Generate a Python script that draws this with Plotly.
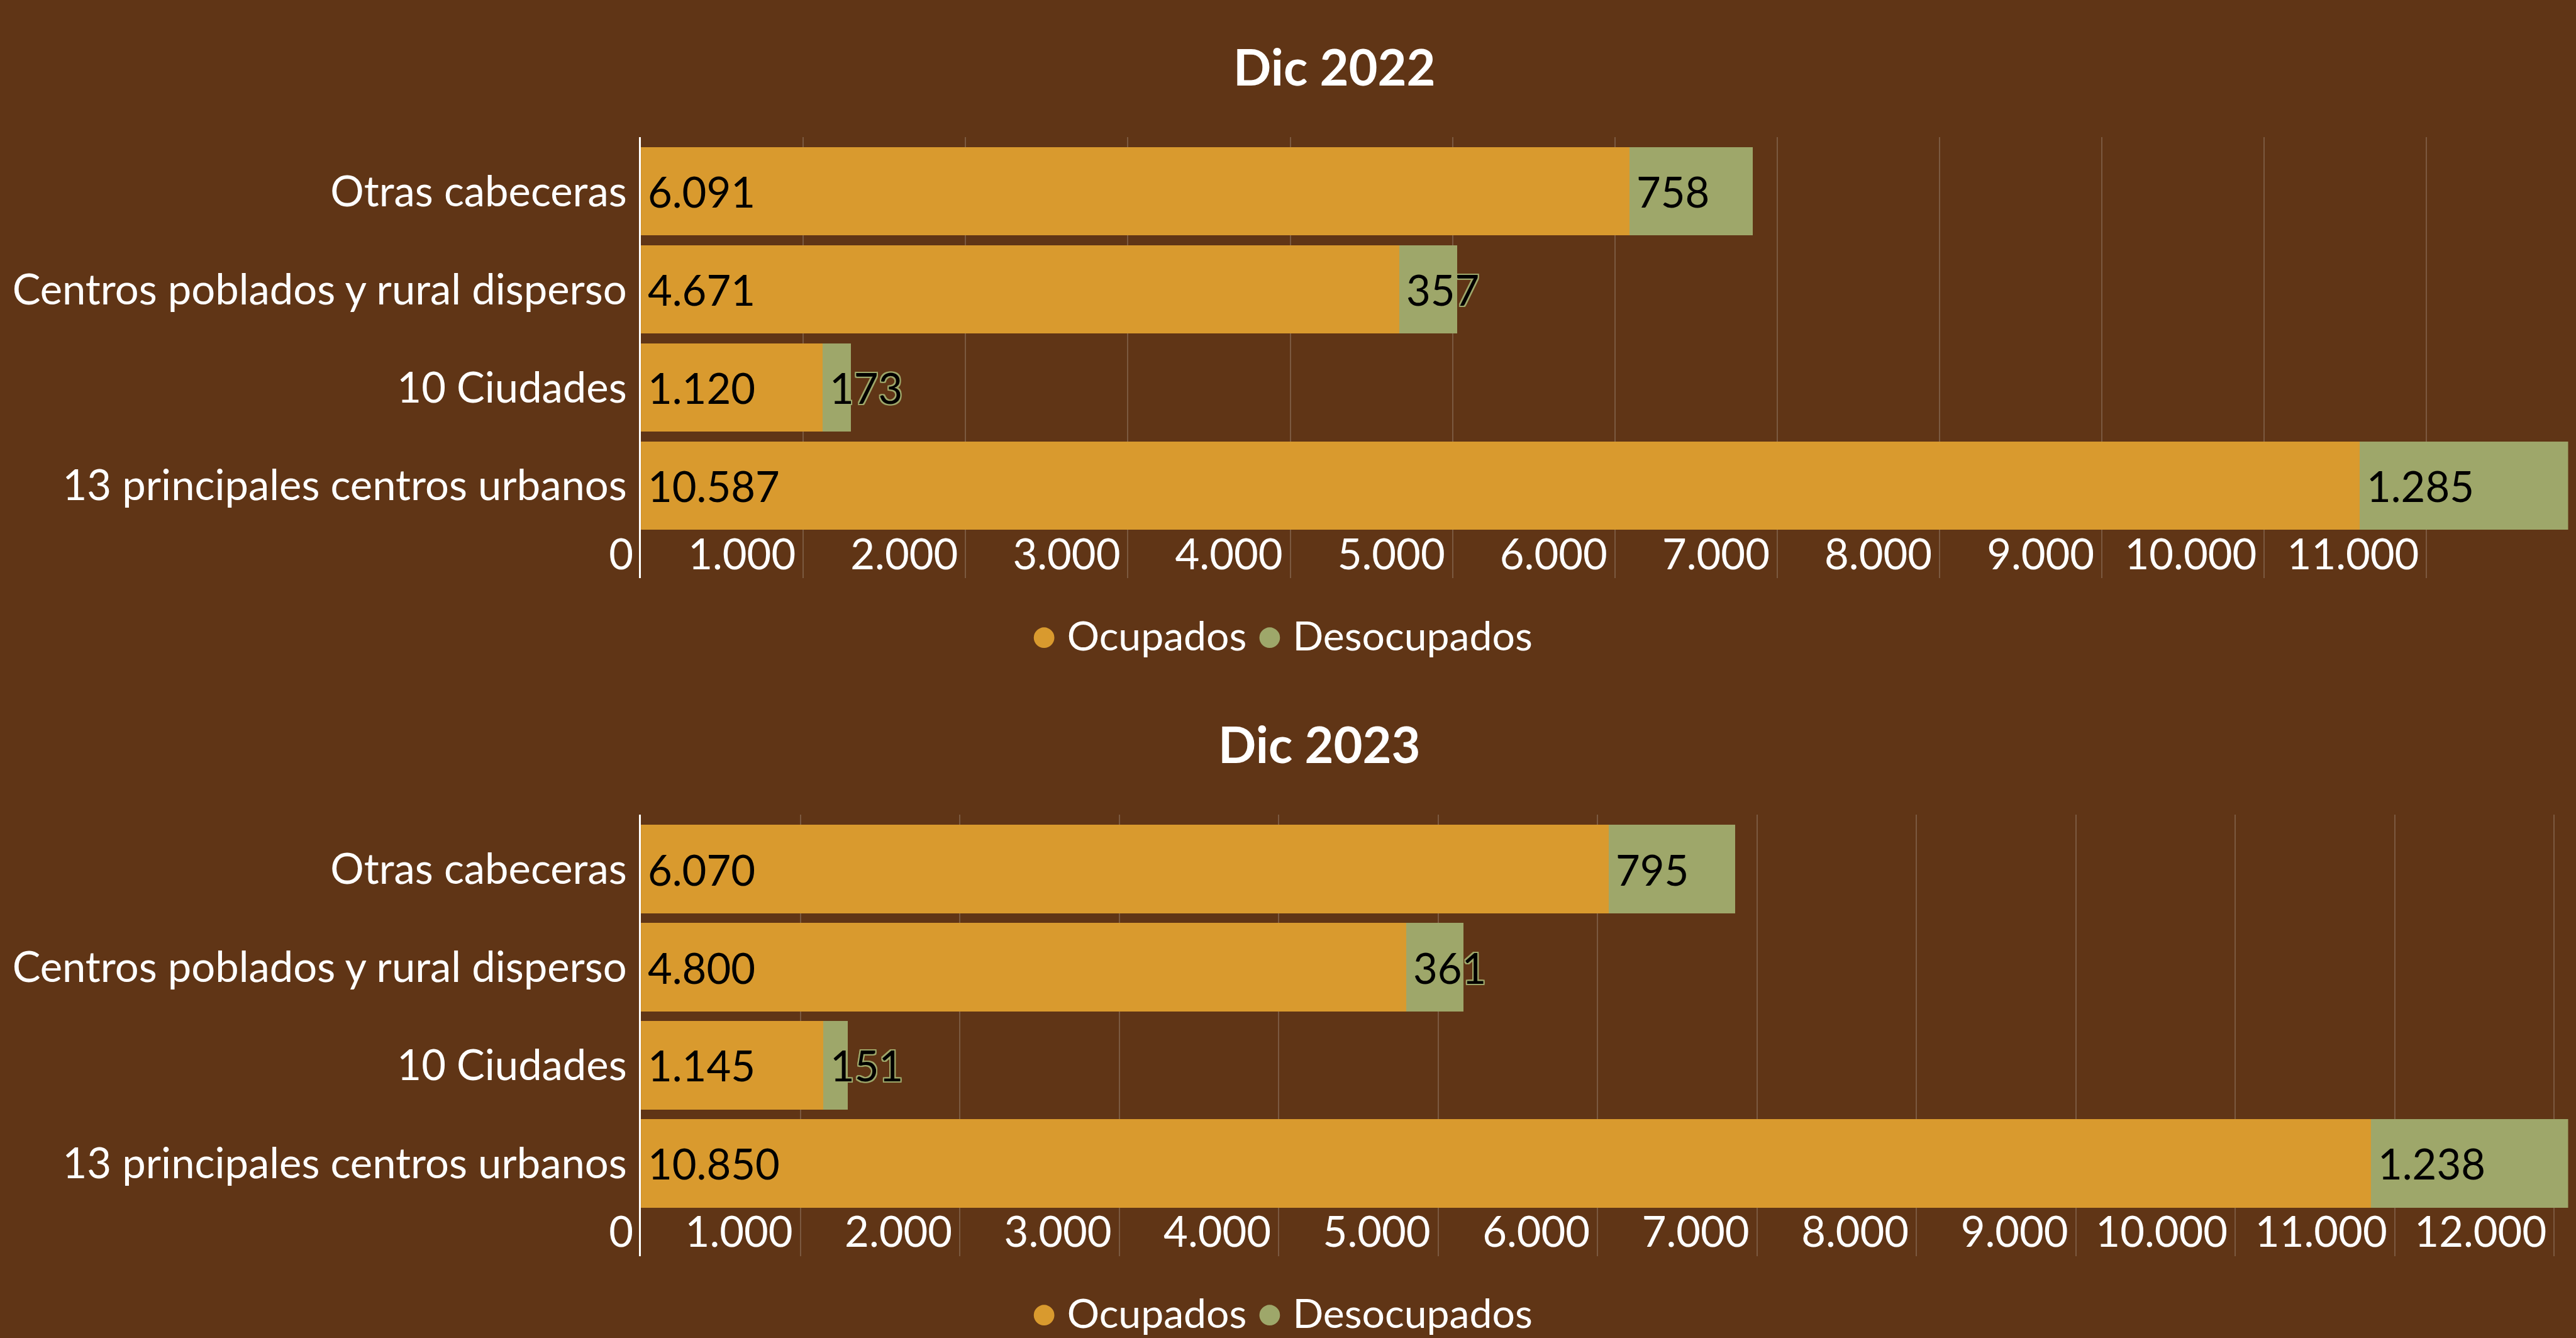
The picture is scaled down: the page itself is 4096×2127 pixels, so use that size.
import plotly.graph_objects as go

# ---------------- data ----------------
categories = ["13 principales centros urbanos", "10 Ciudades",
              "Centros poblados y rural disperso", "Otras cabeceras"]
series_names = ["Ocupados", "Desocupados"]
titles = ["Dic 2022", "Dic 2023"]
ocupados_2022 = [10587, 1120, 4671, 6091]
desocupados_2022 = [1285, 173, 357, 758]
ocupados_2023 = [10850, 1145, 4800, 6070]
desocupados_2023 = [1238, 151, 361, 795]

# ---------------- style ----------------
RW, RH = 4590, 2383
W, H = 4096, 2127
S = W / RW
BG = "#603516"
C_OCC = "#d99a2e"
C_DES = "#9ea76a"
GRID = "#7b5940"
FONT = "Lato"
FS = 75 * S
FS_LEG = 72 * S
FS_TITLE = 89 * S


def fmt(v):
    return f"{v:,}".replace(",", ".")


panels = [
    dict(occ=ocupados_2022, des=desocupados_2022, title=titles[0],
         ytop=244, ybot=1030, title_x=2378, title_y=118, leg_y=1129.5),
    dict(occ=ocupados_2023, des=desocupados_2023, title=titles[1],
         ytop=1451, ybot=2237, title_x=2351, title_y=1324.5, leg_y=2335.5),
]

fig = go.Figure()
annotations = []
X0, X1 = 1142, 4576

for i, p in enumerate(panels):
    sfx = "" if i == 0 else str(i + 1)
    xa, ya = "x" + sfx, "y" + sfx
    fig.add_trace(go.Bar(y=categories, x=p["occ"], orientation="h", name=series_names[0],
                         marker=dict(color=C_OCC, line=dict(width=0)),
                         xaxis=xa, yaxis=ya, showlegend=False, hoverinfo="x+y"))
    fig.add_trace(go.Bar(y=categories, x=p["des"], orientation="h", name=series_names[1],
                         marker=dict(color=C_DES, line=dict(width=0)),
                         xaxis=xa, yaxis=ya, showlegend=False, hoverinfo="x+y"))
    total_max = max(o + d for o, d in zip(p["occ"], p["des"]))
    fig.layout["xaxis" + sfx] = dict(
        domain=[X0 / RW, X1 / RW], anchor=ya, range=[0, total_max], automargin=False,
        dtick=1000, tick0=0, tickformat=",d", showgrid=True, gridcolor=GRID,
        gridwidth=2 * S, zeroline=False, showline=False, ticks="",
        ticklabelposition="inside left", ticklabeloverflow="allow",
        ticklabelshift=-12, ticklabelstandoff=-5,
        tickfont=dict(family=FONT, size=FS, color="white"), fixedrange=True)
    fig.layout["yaxis" + sfx] = dict(
        domain=[1 - p["ybot"] / RH, 1 - p["ytop"] / RH], anchor=xa, automargin=False,
        type="category", categoryorder="array", categoryarray=categories,
        range=[-0.945, 3.555], showline=True, linecolor="white", linewidth=3.5 * S,
        showgrid=False, zeroline=False, ticks="", ticklabelstandoff=6,
        tickfont=dict(family=FONT, size=FS, color="white"), fixedrange=True)

    # data labels
    sh = 2.2 * S
    shadow = ", ".join(f"{a:.1f}px {b:.1f}px 0 {C_DES}" for a, b in
                       [(sh, 0), (-sh, 0), (0, sh), (0, -sh), (sh, sh), (-sh, -sh), (sh, -sh), (-sh, sh)])
    for c, o, d in zip(categories, p["occ"], p["des"]):
        annotations.append(dict(x=0, y=c, xref=xa, yref=ya, text=fmt(o), showarrow=False,
                                xanchor="left", yanchor="middle", xshift=10 * S,
                                font=dict(family=FONT, size=FS, color="black")))
        annotations.append(dict(x=o, y=c, xref=xa, yref=ya, text=fmt(d), showarrow=False,
                                xanchor="left", yanchor="middle", xshift=10 * S,
                                font=dict(family=FONT, size=FS, color="black", shadow=shadow)))
    # title
    annotations.append(dict(x=p["title_x"] / RW, y=1 - p["title_y"] / RH, xref="paper", yref="paper",
                            text=p["title"], showarrow=False, xanchor="center", yanchor="middle",
                            font=dict(family=FONT, size=FS_TITLE, color="white", weight="bold")))
    # legend
    dot = f"font-size:{FS_LEG*1.05:.0f}px"
    leg = (f"<span style='color:{C_OCC};{dot}'>●</span> {series_names[0]} "
           f"<span style='color:{C_DES};{dot}'>●</span> {series_names[1]}")
    annotations.append(dict(x=2284 / RW, y=1 - p["leg_y"] / RH, xref="paper", yref="paper",
                            text=leg, showarrow=False, xanchor="center", yanchor="middle",
                            font=dict(family=FONT, size=FS_LEG, color="white")))

fig.update_layout(
    width=W, height=H, paper_bgcolor=BG, plot_bgcolor=BG,
    barmode="stack", bargap=0.1, separators=",.",
    margin=dict(l=0, r=0, t=0, b=0, pad=0, autoexpand=False), showlegend=False,
    annotations=annotations, font=dict(family=FONT, color="white"),
)

fig.write_html("out.html",
               config={"displayModeBar": False},
               post_script=f"document.body.style.margin='0px';"
                           f"document.body.style.background='{BG}';")
